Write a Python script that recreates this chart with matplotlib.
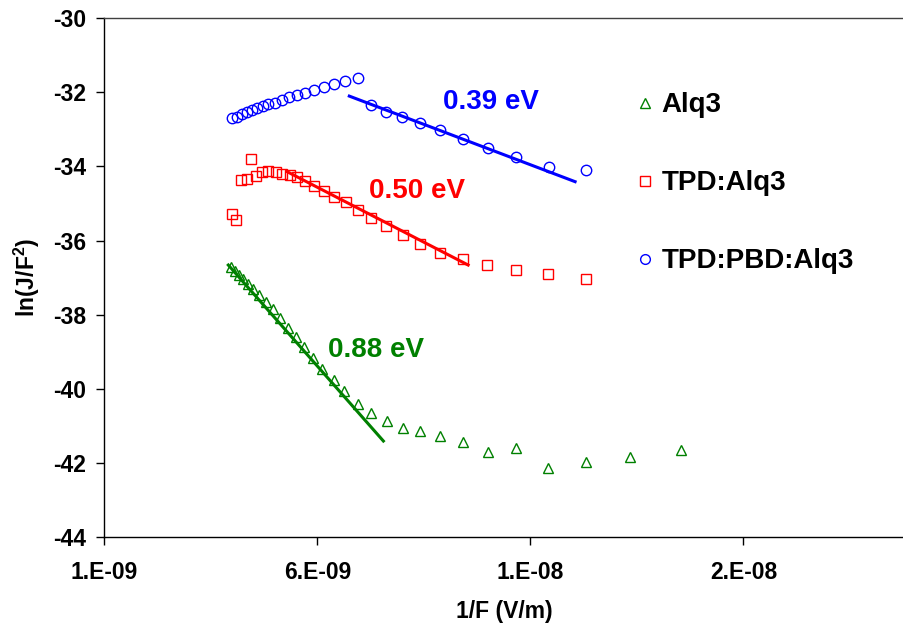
import numpy as np
import matplotlib
matplotlib.use('Agg')
import matplotlib.pyplot as plt
from matplotlib.lines import Line2D

plt.rcParams['font.family'] = ['Liberation Sans', 'DejaVu Sans']
plt.rcParams['font.weight'] = 'bold'
plt.rcParams['axes.unicode_minus'] = False
plt.rcParams['mathtext.fontset'] = 'custom'
plt.rcParams['mathtext.bf'] = 'Liberation Sans:bold'
plt.rcParams['mathtext.rm'] = 'Liberation Sans:bold'

# 1/F values are given in units of 1e-9 V/m
alq3_x = [3.97, 4.07, 4.16, 4.26, 4.38, 4.50, 4.64, 4.79, 4.95, 5.12, 5.31, 5.49,
          5.69, 5.89, 6.12, 6.38, 6.63, 6.95, 7.25, 7.63, 8.00, 8.42, 8.88, 9.41,
          10.0, 10.66, 11.42, 12.31, 13.34, 14.54]
alq3_y = [-36.70, -36.81, -36.93, -37.04, -37.18, -37.31, -37.47, -37.65, -37.85,
          -38.10, -38.35, -38.61, -38.88, -39.18, -39.47, -39.76, -40.05, -40.40,
          -40.66, -40.87, -41.07, -41.14, -41.27, -41.43, -41.71, -41.59, -42.15,
          -41.98, -41.83, -41.65]

tpd_x = [3.99, 4.09, 4.20, 4.34, 4.44, 4.56, 4.70, 4.85, 5.03, 5.17, 5.36, 5.52,
         5.71, 5.93, 6.15, 6.40, 6.67, 6.95, 7.25, 7.61, 8.00, 8.41, 8.88, 9.41,
         9.99, 10.66, 11.42, 12.30]
tpd_y = [-35.29, -35.44, -34.36, -34.35, -33.81, -34.25, -34.16, -34.13, -34.15,
         -34.20, -34.24, -34.29, -34.38, -34.53, -34.67, -34.82, -34.97, -35.17,
         -35.38, -35.60, -35.85, -36.09, -36.33, -36.50, -36.66, -36.79, -36.91,
         -37.04]

pbd_x = [3.99, 4.11, 4.23, 4.34, 4.46, 4.59, 4.72, 4.85, 5.01, 5.16, 5.34, 5.52,
         5.71, 5.92, 6.15, 6.39, 6.66, 6.95, 7.26, 7.61, 7.99, 8.41, 8.88, 9.41,
         10.0, 10.66, 11.43, 12.31]
pbd_y = [-32.70, -32.66, -32.59, -32.54, -32.48, -32.43, -32.38, -32.32, -32.28,
         -32.21, -32.13, -32.07, -32.01, -31.94, -31.85, -31.78, -31.69, -31.60,
         -32.34, -32.52, -32.66, -32.82, -33.02, -33.26, -33.50, -33.75, -34.02,
         -34.09]

# fitted lines (end points)
alq3_fit_x = [3.91, 7.55]
alq3_fit_y = [-36.66, -41.41]
tpd_fit_x = [5.29, 9.54]
tpd_fit_y = [-34.14, -36.66]
pbd_fit_x = [6.75, 12.05]
pbd_fit_y = [-32.10, -34.41]

labels = ['Alq3', 'TPD:Alq3', 'TPD:PBD:Alq3']
energies = ['0.88 eV', '0.50 eV', '0.39 eV']
colors = ['#008000', '#ff0000', '#0000ff']
markers = ['^', 's', 'o']

xticks = [1e-9, 6e-9, 1.1e-8, 1.6e-8]
xtick_labels = ['1.E-09', '6.E-09', '1.E-08', '2.E-08']
yticks = np.arange(-44, -29, 2)


def main():
    fig = plt.figure(figsize=(9.04, 6.33), dpi=100)
    ax = fig.add_axes([0.1154, 0.1517, 0.8846, 0.8194])

    series = [(alq3_x, alq3_y, alq3_fit_x, alq3_fit_y),
              (tpd_x, tpd_y, tpd_fit_x, tpd_fit_y),
              (pbd_x, pbd_y, pbd_fit_x, pbd_fit_y)]
    for (x, y, fx, fy), c, m in zip(series, colors, markers):
        ax.plot(np.array(x) * 1e-9, y, linestyle='none', marker=m, markersize=7.5,
                markerfacecolor='none', markeredgecolor=c, markeredgewidth=1.0)
        ax.plot(np.array(fx) * 1e-9, fy, color=c, linewidth=2.2)

    # energy labels
    ax.text(6.26e-9, -38.95, energies[0], color=colors[0], fontsize=20,
            ha='left', va='center')
    ax.text(7.22e-9, -34.66, energies[1], color=colors[1], fontsize=20,
            ha='left', va='center')
    ax.text(8.95e-9, -32.26, energies[2], color=colors[2], fontsize=20,
            ha='left', va='center')

    handles = [Line2D([], [], linestyle='none', marker=m, markersize=7,
                      markerfacecolor='none', markeredgecolor=c, markeredgewidth=1.0)
               for c, m in zip(colors, markers)]
    ax.legend(handles, labels, loc='upper left', bbox_to_anchor=(0.689, 0.876),
              bbox_transform=fig.transFigure, frameon=False, fontsize=20,
              handlelength=0.6, handletextpad=0.3, labelspacing=1.87,
              borderpad=0)

    ax.set_xlim(1e-9, 1.977e-8)
    ax.set_ylim(-44, -30)
    ax.set_xticks(xticks)
    ax.set_xticklabels(xtick_labels)
    ax.set_yticks(yticks)
    ax.tick_params(axis='both', labelsize=16.5, length=6, width=1, direction='out')
    ax.tick_params(axis='x', pad=11)
    ax.tick_params(axis='y', pad=7)

    ax.spines['right'].set_visible(False)
    ax.spines['top'].set_color('#404040')
    for s in ['left', 'bottom', 'top']:
        ax.spines[s].set_linewidth(1.0)

    ax.set_xlabel('1/F (V/m)', fontsize=16.5, fontweight='bold', labelpad=12)
    ax.set_ylabel(r'ln(J/F$^{\mathbf{2}}$)', fontsize=16.5, fontweight='bold', labelpad=8)

    fig.savefig('out.png', dpi=100)


if __name__ == "__main__":
    main()
